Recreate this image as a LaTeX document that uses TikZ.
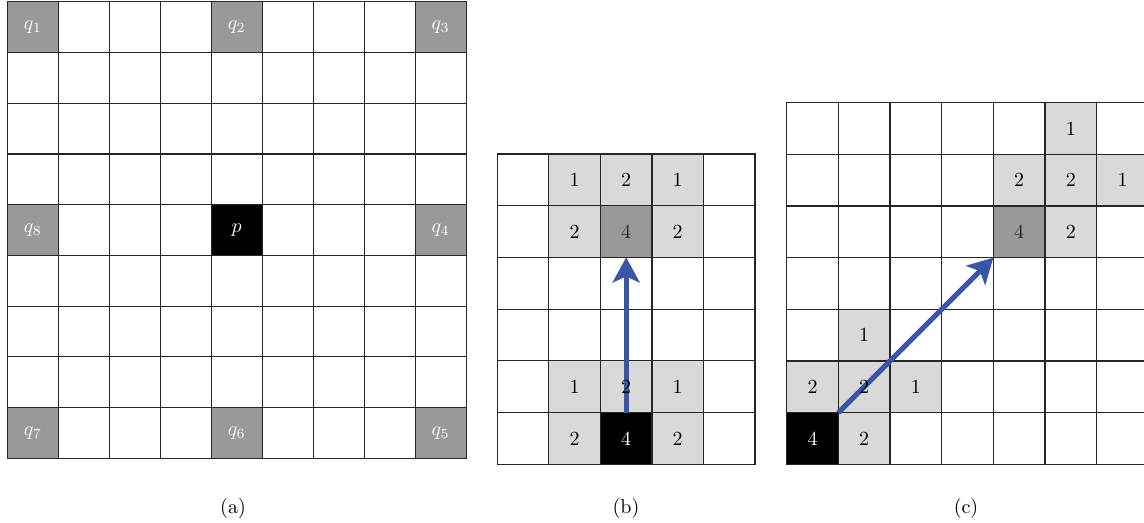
\documentclass[tikz,border=0pt]{standalone}
\usetikzlibrary{arrows.meta}
\definecolor{darkcell}{HTML}{999999}
\definecolor{lightcell}{HTML}{D9D9D9}
\definecolor{arrowblue}{HTML}{3B55A6}
\begin{document}
\begin{tikzpicture}[x=0.5pt,y=-0.5pt,
  gridline/.style={draw=black!85,line width=0.6pt,line cap=rect},
  celltext/.style={font=\normalsize,inner sep=0pt},
  whitetext/.style={celltext,text=white},
  darktext/.style={celltext,text=black!85},
  movearrow/.style={draw=arrowblue,line width=2.6pt,-{Stealth[length=12.5pt,width=13.5pt,inset=3pt]}},
  captiontext/.style={font=\normalsize,inner sep=0pt}]
\useasboundingbox (0,0) rectangle (1144,523);

% ---------- (a) ----------
\begin{scope}[shift={(7.3,1.7)},x=25.49pt,y=-25.37pt]
  \foreach \c/\r in {0/0,4/0,8/0,0/4,8/4,0/8,4/8,8/8}
    \fill[darkcell] (\c,\r) rectangle ++(1,1);
  \fill[black] (4,4) rectangle (5,5);
  \foreach \i in {0,...,9} {
    \draw[gridline] (\i,0) -- (\i,9);
    \draw[gridline] (0,\i) -- (9,\i);
  }
  \node[whitetext] (q1) at (0.5,0.5) {$q_1$};
  \node[whitetext] (q2) at (4.5,0.5) {$q_2$};
  \node[whitetext] (q3) at (8.5,0.5) {$q_3$};
  \node[whitetext] (q8) at (0.5,4.5) {$q_8$};
  \node[whitetext] (p)  at (4.5,4.5) {$p$};
  \node[whitetext] (q4) at (8.5,4.5) {$q_4$};
  \node[whitetext] (q7) at (0.5,8.5) {$q_7$};
  \node[whitetext] (q6) at (4.5,8.5) {$q_6$};
  \node[whitetext] (q5) at (8.5,8.5) {$q_5$};
\end{scope}
\node[captiontext] (capa) at (233,508) {(a)};

% ---------- (b) ----------
\begin{scope}[shift={(497.3,154)},x=25.77pt,y=-25.86pt]
  \foreach \c/\r in {1/0,2/0,3/0,1/1,3/1,1/4,2/4,3/4,1/5,3/5}
    \fill[lightcell] (\c,\r) rectangle ++(1,1);
  \fill[darkcell] (2,1) rectangle (3,2);
  \fill[black] (2,5) rectangle (3,6);
  \foreach \i in {0,...,5} \draw[gridline] (\i,0) -- (\i,6);
  \foreach \j in {0,...,6} \draw[gridline] (0,\j) -- (5,\j);
  \coordinate (bstart) at (2.5,5);
  \coordinate (bend) at (2.5,2);
  \draw[movearrow] (bstart) -- (bend);
  \node[celltext] (b10) at (1.5,0.5) {1};
  \node[celltext] (b20) at (2.5,0.5) {2};
  \node[celltext] (b30) at (3.5,0.5) {1};
  \node[celltext] (b11) at (1.5,1.5) {2};
  \node[darktext] (b21) at (2.5,1.5) {4};
  \node[celltext] (b31) at (3.5,1.5) {2};
  \node[celltext] (b14) at (1.5,4.5) {1};
  \node[celltext] (b24) at (2.5,4.5) {2};
  \node[celltext] (b34) at (3.5,4.5) {1};
  \node[celltext] (b15) at (1.5,5.5) {2};
  \node[whitetext] (b25) at (2.5,5.5) {4};
  \node[celltext] (b35) at (3.5,5.5) {2};
\end{scope}
\node[captiontext] (capb) at (626,508) {(b)};

% ---------- (c) ----------
\begin{scope}[shift={(786.7,102.7)},x=25.83pt,y=-25.83pt]
  \foreach \c/\r in {5/0,4/1,5/1,6/1,5/2,1/4,0/5,1/5,2/5,1/6}
    \fill[lightcell] (\c,\r) rectangle ++(1,1);
  \fill[darkcell] (4,2) rectangle (5,3);
  \fill[black] (0,6) rectangle (1,7);
  \foreach \i in {0,...,7} \draw[gridline] (\i,0) -- (\i,7);
  \foreach \j in {0,...,7} \draw[gridline] (0,\j) -- (7,\j);
  \coordinate (cstart) at (1,6);
  \coordinate (cend) at (4,3);
  \draw[movearrow] (cstart) -- (cend);
  \node[celltext] (c50) at (5.5,0.5) {1};
  \node[celltext] (c41) at (4.5,1.5) {2};
  \node[celltext] (c51) at (5.5,1.5) {2};
  \node[celltext] (c61) at (6.5,1.5) {1};
  \node[darktext] (c42) at (4.5,2.5) {4};
  \node[celltext] (c52) at (5.5,2.5) {2};
  \node[celltext] (c14) at (1.5,4.5) {1};
  \node[celltext] (c05) at (0.5,5.5) {2};
  \node[celltext] (c15) at (1.5,5.5) {2};
  \node[celltext] (c25) at (2.5,5.5) {1};
  \node[whitetext] (c06) at (0.5,6.5) {4};
  \node[celltext] (c16) at (1.5,6.5) {2};
\end{scope}
\node[captiontext] (capc) at (966,508) {(c)};
\end{tikzpicture}
\end{document}
